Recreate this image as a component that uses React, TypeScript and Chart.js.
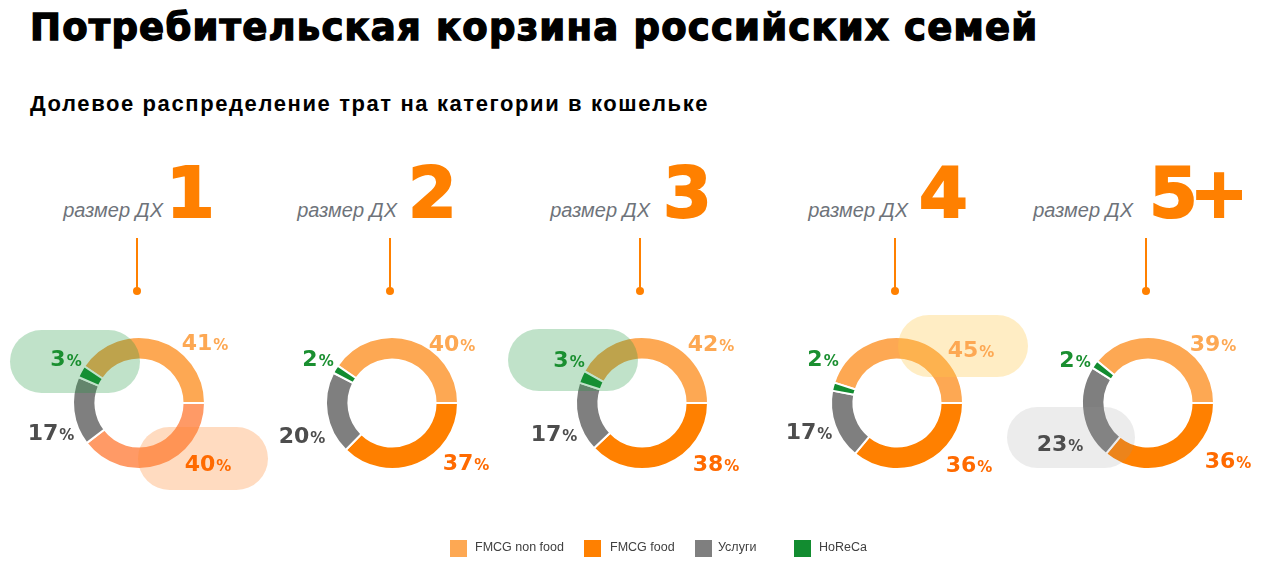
import React, { useEffect, useRef } from "react";
import { Chart, registerables } from "chart.js";

Chart.register(...registerables);

// ---------- data ----------
const categories = ["FMCG non food", "FMCG food", "Услуги", "HoReCa"];
const householdSizes = ["1", "2", "3", "4", "5+"];
const nonFoodShare = [41, 40, 42, 45, 39];
const foodShare = [40, 37, 38, 36, 36];
const servicesShare = [17, 20, 17, 17, 23];
const horecaShare = [3, 2, 3, 2, 2];

// ---------- styles / layout ----------
const segColors = ["#FDA853", "#FF8000", "#7F7F7F", "#128C30"];
const labelColors = ["#FDA853", "#FF6A00", "#4D4D4D", "#1A8F30"];
const foodColorOverride: (string | null)[] = ["#FF9A66", null, null, null, null];
const centersX = [139, 392, 642, 897, 1148];
const centerY = 403;
const headerTextRight = [163, 397, 650, 908, 1133];
const headerNumLeft = [166, 408, 663, 919, 1149];
const CW = 320;
const CH = 260;

// label offsets (relative to donut centre), order = categories
const labelOffsets = [
  [[66, -61], [69, 60], [-88, 29], [-73, -45]],
  [[60, -60], [74, 59], [-90, 32], [-74, -45]],
  [[69, -60], [74, 60], [-88, 30], [-73, -44]],
  [[74, -54], [72, 61], [-88, 28], [-74, -45]],
  [[65, -60], [80, 57], [-88, 40], [-73, -44]],
];

// highlight pills: [x, y, w, h, colour] relative to centre
const pills: [number, number, number, number, string][][] = [
  [
    [-129, -73, 130, 63, "rgba(30,150,60,0.28)"],
    [-1, 24, 130, 63, "rgba(255,135,45,0.30)"],
  ],
  [],
  [[-134, -74, 130, 62, "rgba(30,150,60,0.28)"]],
  [[1, -88, 130, 62, "rgba(255,200,70,0.32)"]],
  [[-141, 4, 128, 61, "rgba(150,150,150,0.18)"]],
];

function roundRect(ctx: CanvasRenderingContext2D, x: number, y: number, w: number, h: number, r: number) {
  ctx.beginPath();
  ctx.moveTo(x + r, y);
  ctx.lineTo(x + w - r, y);
  ctx.arc(x + w - r, y + r, r, -Math.PI / 2, 0);
  ctx.lineTo(x + w, y + h - r);
  ctx.arc(x + w - r, y + h - r, r, 0, Math.PI / 2);
  ctx.lineTo(x + r, y + h);
  ctx.arc(x + r, y + h - r, r, Math.PI / 2, Math.PI);
  ctx.lineTo(x, y + r);
  ctx.arc(x + r, y + r, r, Math.PI, Math.PI * 1.5);
  ctx.closePath();
}

function makeDecor(i: number) {
  return {
    id: "donutDecor" + i,
    afterDatasetsDraw(chart: any) {
      const ctx: CanvasRenderingContext2D = chart.ctx;
      const arc = chart.getDatasetMeta(0).data[0];
      const cx = arc.x;
      const cy = arc.y;
      ctx.save();
      for (const p of pills[i]) {
        ctx.fillStyle = p[4];
        roundRect(ctx, cx + p[0], cy + p[1], p[2], p[3], p[3] / 2);
        ctx.fill();
      }
      const values = chart.data.datasets[0].data as number[];
      values.forEach((v, k) => {
        const [dx, dy] = labelOffsets[i][k];
        const num = String(v);
        ctx.font = "bold 22px 'DejaVu Sans'";
        const wn = ctx.measureText(num).width;
        ctx.font = "bold 15px 'DejaVu Sans'";
        const wp = ctx.measureText("%").width;
        const total = wn + 1 + wp;
        const x0 = cx + dx - total / 2;
        const base = cy + dy + 8;
        ctx.fillStyle = labelColors[k];
        ctx.textBaseline = "alphabetic";
        ctx.textAlign = "left";
        ctx.font = "bold 22px 'DejaVu Sans'";
        ctx.fillText(num, x0, base);
        ctx.font = "bold 15px 'DejaVu Sans'";
        ctx.fillText("%", x0 + wn + 1, base);
      });
      ctx.restore();
    },
  };
}

function Donut({ i }: { i: number }) {
  const ref = useRef<HTMLCanvasElement>(null);
  useEffect(() => {
    if (!ref.current) return;
    const values = [nonFoodShare[i], foodShare[i], servicesShare[i], horecaShare[i]];
    const total = values.reduce((a, b) => a + b, 0);
    const colors = [...segColors];
    if (foodColorOverride[i]) colors[1] = foodColorOverride[i] as string;
    const padX = (CW - 134) / 2;
    const padY = (CH - 134) / 2;
    const chart = new Chart(ref.current, {
      type: "doughnut",
      data: {
        labels: categories,
        datasets: [
          {
            data: values,
            backgroundColor: colors,
            borderColor: "#ffffff",
            borderWidth: 2,
          },
        ],
      },
      options: {
        responsive: false,
        animation: false,
        events: [],
        rotation: 90 - (nonFoodShare[i] / total) * 360,
        cutout: "66%",
        layout: { padding: { left: padX, right: padX, top: padY, bottom: padY } },
        plugins: { legend: { display: false }, tooltip: { enabled: false } },
      },
      plugins: [makeDecor(i)],
    } as any);
    return () => chart.destroy();
  }, [i]);
  return (
    <canvas
      ref={ref}
      width={CW}
      height={CH}
      style={{
        position: "absolute",
        left: centersX[i] - CW / 2,
        top: centerY - CH / 2,
        width: CW,
        height: CH,
      }}
    />
  );
}

export default function App() {
  return (
    <div
      style={{
        position: "absolute",
        left: 0,
        top: 0,
        width: 1280,
        height: 578,
        overflow: "hidden",
        background: "#ffffff",
      }}
    >
      <div
        style={{
          position: "absolute",
          left: 30,
          top: 9,
          fontFamily: "'DejaVu Sans'",
          fontWeight: 700,
          fontSize: 37,
          lineHeight: 1,
          color: "#000",
          whiteSpace: "nowrap",
          letterSpacing: 1.2,
          WebkitTextStroke: "1.4px #000",
        }}
      >
        Потребительская корзина российских семей
      </div>
      <div
        style={{
          position: "absolute",
          left: 30,
          top: 93,
          fontFamily: "'Liberation Sans'",
          fontWeight: 700,
          fontSize: 22,
          lineHeight: 1,
          color: "#000",
          whiteSpace: "nowrap",
          letterSpacing: 1.6,
        }}
      >
        Долевое распределение трат на категории в кошельке
      </div>

      {householdSizes.map((s, i) => (
        <React.Fragment key={s}>
          <div
            style={{
              position: "absolute",
              right: 1280 - headerTextRight[i],
              top: 200,
              fontFamily: "'Liberation Sans'",
              fontStyle: "italic",
              fontSize: 20,
              lineHeight: 1,
              color: "#6E737A",
              whiteSpace: "nowrap",
            }}
          >
            размер ДХ
          </div>
          <div
            style={{
              position: "absolute",
              left: headerNumLeft[i],
              top: 158,
              fontFamily: "'DejaVu Sans'",
              fontWeight: 700,
              fontSize: 70,
              lineHeight: 1,
              color: "#FF8000",
              whiteSpace: "nowrap",
              WebkitTextStroke: "2px #FF8000",
              letterSpacing: s.length > 1 ? -8 : 0,
            }}
          >
            {s}
          </div>
          <div
            style={{
              position: "absolute",
              left: centersX[i] - 3,
              top: 238,
              width: 2,
              height: 53,
              background: "#FF8000",
            }}
          />
          <div
            style={{
              position: "absolute",
              left: centersX[i] - 6,
              top: 287,
              width: 8,
              height: 8,
              borderRadius: 4,
              background: "#FF8000",
            }}
          />
          <Donut i={i} />
        </React.Fragment>
      ))}

      {categories.map((c, k) => {
        const sqLeft = [450, 584, 695, 794][k];
        const txLeft = [475, 610, 718, 819][k];
        return (
          <React.Fragment key={c}>
            <div
              style={{
                position: "absolute",
                left: sqLeft,
                top: 540,
                width: 17,
                height: 17,
                background: segColors[k],
              }}
            />
            <div
              style={{
                position: "absolute",
                left: txLeft,
                top: 541,
                fontFamily: "'Liberation Sans'",
                fontSize: 12.5,
                lineHeight: 1,
                color: "#404040",
                whiteSpace: "nowrap",
              }}
            >
              {c}
            </div>
          </React.Fragment>
        );
      })}
    </div>
  );
}
